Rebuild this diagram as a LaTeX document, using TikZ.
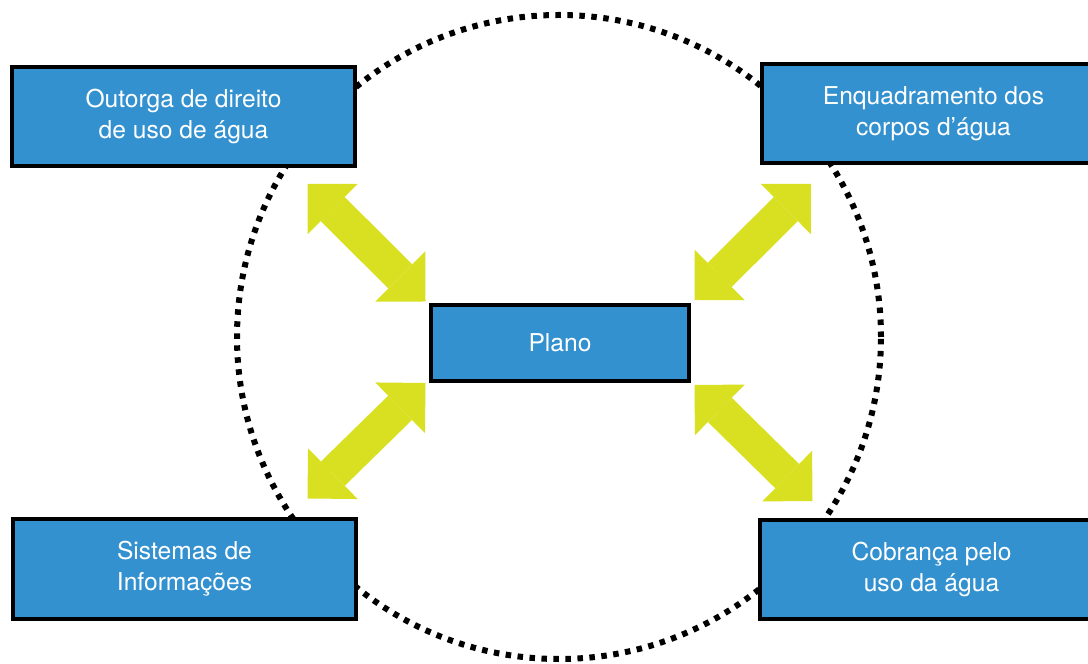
\documentclass[tikz,border=0pt]{standalone}
\usepackage{fontspec}
\setmainfont{TeX Gyre Heros}
\usetikzlibrary{arrows.meta}
\definecolor{boxblue}{RGB}{51,145,207}
\definecolor{arrowgreen}{RGB}{217,224,33}

\begin{document}
\begin{tikzpicture}[
  box/.style={draw=black, line width=.08cm, fill=boxblue, text=white, align=center,
    minimum width=6.86cm, minimum height=1.98cm, inner sep=0pt,
    font=\fontsize{14}{17.5}\selectfont},
  dblarrow/.style={draw=arrowgreen, line width=.68cm,
    {Triangle[width=1.42cm,length=.71cm,line width=0pt]}-{Triangle[width=1.42cm,length=.71cm,line width=0pt]}}
]
  \clip (0,0) rectangle (21.76,13.28);

  % dotted circle
  \draw[line width=.12cm, dash pattern=on .11cm off .13cm] (11.18,6.54) circle [radius=6.44];

  % centre box
  \node[box, minimum width=5.16cm, minimum height=1.52cm] (plano) at (11.2,6.42) {Plano};

  % outer boxes
  \node[box] (outorga) at (3.67,10.95) {Outorga de direito\\de uso de água};
  \node[box] (enquadramento) at (18.67,11.0) {Enquadramento dos\\corpos d’água};
  \node[box, minimum height=2cm] (sistemas) at (3.69,1.9) {Sistemas de\\Informações};
  \node[box] (cobranca) at (18.63,1.89) {Cobrança pelo\\uso da água};

  % arrows
  \draw[dblarrow] ([shift={(-.07,.03)}]plano.north west) -- ++(-2.36,2.35);
  \draw[dblarrow] ([shift={(.07,.06)}]plano.north east) -- ++(2.33,2.32);
  \draw[dblarrow] ([shift={(-.07,0)}]plano.south west) -- ++(-2.36,-2.31);
  \draw[dblarrow] ([shift={(.07,-.04)}]plano.south east) -- ++(2.36,-2.32);
\end{tikzpicture}
\end{document}
